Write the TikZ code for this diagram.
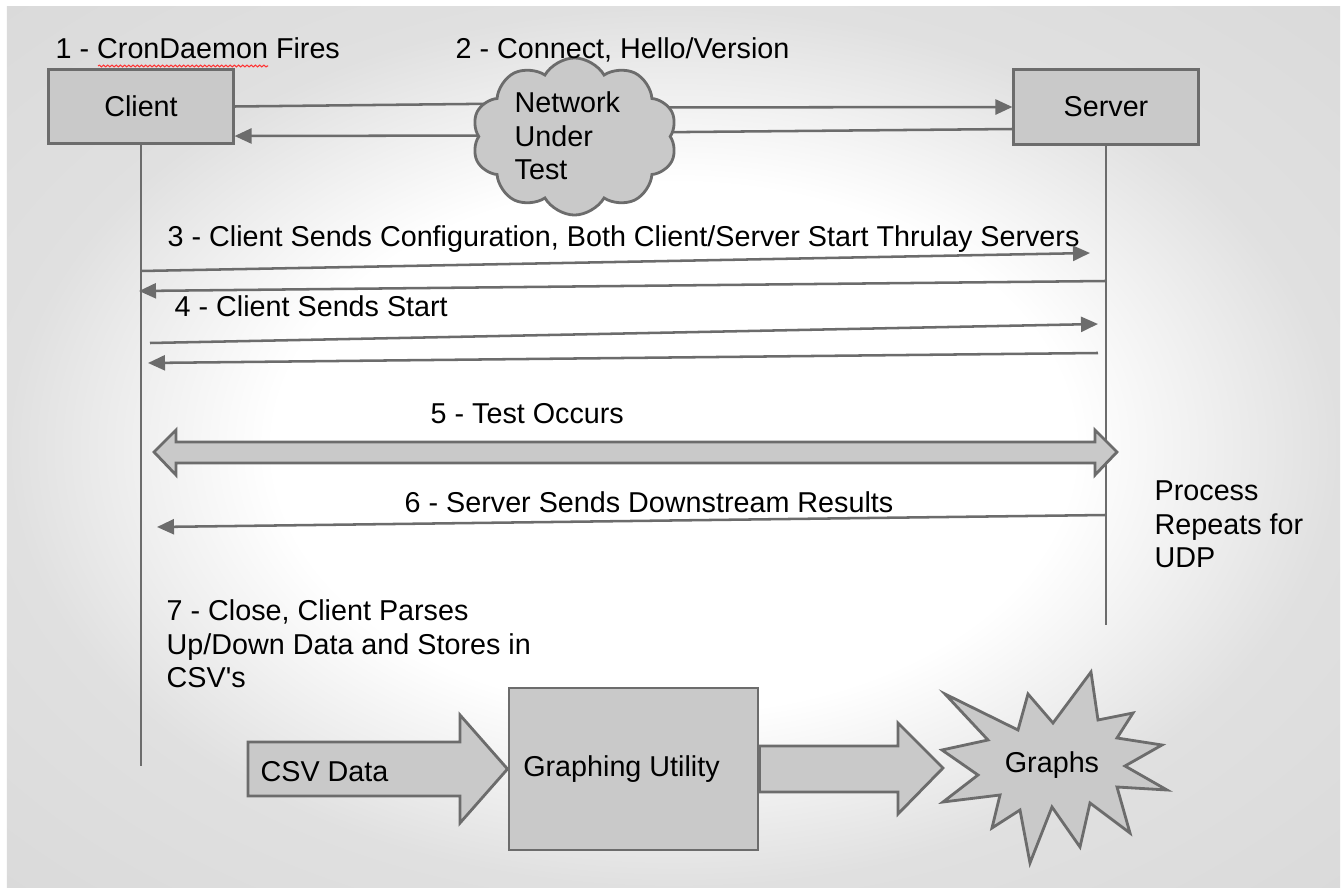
\documentclass[tikz,border=0pt]{standalone}
\usepackage{fontspec}
\setmainfont{Liberation Sans}
\usetikzlibrary{positioning, calc, shapes.symbols, arrows.meta, decorations.pathmorphing}
\definecolor{boxFill}{RGB}{201,201,201}
\definecolor{lineColor}{RGB}{108,108,108}
\definecolor{slideEdge}{RGB}{224,224,224}
\definecolor{slideCorner}{RGB}{210,210,210}
\pgfdeclareradialshading{slideGlow}{\pgfpoint{0bp}{0bp}}{color(0bp)=(white); color(15bp)=(white); color(25bp)=(slideEdge); color(50bp)=(slideCorner)}
\tikzstyle{slide} = [x = 0.01cm, y = -0.01cm, font=\fontsize{8.17}{9.6}\selectfont]
\tikzstyle{hostBox} = [draw=lineColor, fill=boxFill, line width=0.85pt, minimum width=1.84cm, minimum height=0.74cm, inner sep=0]
\tikzstyle{lifeLine} = [draw=lineColor, line width=0.6pt]
\tikzstyle{plainLine} = [draw=lineColor, line width=0.72pt]
\tikzstyle{msgLine} = [plainLine, -{Triangle[length=0.17cm, width=0.15cm]}]
\tikzstyle{blockShape} = [draw=lineColor, fill=boxFill, line width=0.8pt, line join=miter]
\tikzstyle{stepText} = [anchor=base west, inner sep=0, align=left]
\tikzstyle{cloudShape} = [cloud, cloud puffs=10, cloud puff arc=120, cloud ignores aspect, draw=lineColor, fill=boxFill, line width=0.8pt, minimum width=2.05cm, minimum height=1.57cm, inner sep=0]
% multi-line labels sit on the baseline of their last line
\newcommand{\stepLabel}[3]{\node [stepText] (#1) at (#2) {#3};}

\begin{document}
\begin{tikzpicture}[slide]
  \useasboundingbox (0,0) rectangle (1344,888);
  \fill [white] (0,0) rectangle (1344,888);
  \shade [shading=slideGlow] (7,7) rectangle (1340,888);

  % hosts and lifelines
  \node [hostBox] (client) at (141,106.5) {Client};
  \node [hostBox] (server) at (1106,107) {Server};
  \draw [lifeLine] (client.south) -- ++(0,621);
  \draw [lifeLine] (server.south) -- ++(0,479);

  % connect through the network
  \coordinate (netc) at (574.5,136.5);
  \draw [plainLine] (client.east) -- ($(netc) + (-60,-33)$);
  \draw [msgLine] ($(netc) + (-60,-1)$) -- ([yshift=-0.295cm]client.east);
  \draw [msgLine] ($(netc) + (60,-29)$) -- (server.west);
  \draw [plainLine] ([yshift=-0.22cm]server.west) -- ($(netc) + (60,-4)$);
  \node [cloudShape] (net) at (netc) {};
  \stepLabel{netText}{514,180}{Network\\Under\\Test}

  \stepLabel{cron}{55,59}{1 - CronDaemon Fires}
  \draw [red!80!white, line width=0.3pt, decorate, decoration={snake, amplitude=0.25pt, segment length=1.2pt}] (98,66) -- (268,66);
  \stepLabel{hello}{455,59}{2 - Connect, Hello/Version}

  % configuration and start
  \stepLabel{config}{167,247}{3 - Client Sends Configuration, Both Client/Server Start Thrulay Servers}
  \draw [msgLine] (client.south |- 0,271) -- ($(server.south |- 0,253) + (-16,0)$);
  \draw [msgLine] (server.south |- 0,281) -- ($(client.south |- 0,291) + (-2,0)$);
  \stepLabel{start}{174,317}{4 - Client Sends Start}
  \draw [msgLine] ($(client.south |- 0,343) + (9,0)$) -- ($(server.south |- 0,324) + (-8,0)$);
  \draw [msgLine] ($(server.south |- 0,353) + (-8,0)$) -- ($(client.south |- 0,363) + (7,0)$);

  % test
  \stepLabel{test}{430,424}{5 - Test Occurs}
  \filldraw [blockShape] (154,452) -- (176,430) -- (176,442) -- (1095,442) -- (1095,430) -- (1117,452)
    -- (1095,475) -- (1095,463) -- (176,463) -- (176,475) -- cycle;

  \stepLabel{results}{404,513}{6 - Server Sends Downstream Results}
  \draw [msgLine] (server.south |- 0,515) -- ($(client.south |- 0,527) + (16,0)$);
  \stepLabel{repeat}{1154,568}{Process\\Repeats for\\UDP}
  \stepLabel{close}{166,688}{7 - Close, Client Parses\\Up/Down Data and Stores in\\CSV\textquotesingle s}

  % graphing
  \node [blockShape, minimum width=2.49cm, minimum height=1.62cm] (util) at (633.5,769) {Graphing Utility\rule{0.24cm}{0pt}};
  \filldraw [blockShape] (248,742) -- (460,742) -- (460,715) -- (util.west) -- (460,823) -- (460,796) -- (248,796) -- cycle;
  \node [anchor=base west, inner sep=0] (csv) at (260,782) {CSV Data};
  \filldraw [blockShape] ([yshift=0.23cm]util.east) -- (898,746) -- (898,723) -- (943,768) -- (898,814) -- (898,792)
    -- ([yshift=-0.23cm]util.east) -- cycle;
  \filldraw [blockShape] (945,694) -- (1018,730) -- (1028,694) -- (1053,723) -- (1091,672) -- (1098,720) -- (1133,713)
    -- (1117,738) -- (1162,745) -- (1125,766) -- (1167,790) -- (1117,787) -- (1130,833) -- (1090,803) -- (1080,847)
    -- (1052,807) -- (1030,863) -- (1020,810) -- (992,828) -- (1000,795) -- (943,802) -- (978,775) -- (942,750)
    -- (988,740) -- cycle;
  \node [anchor=base, inner sep=0] (graphs) at (1052,773) {Graphs};
\end{tikzpicture}
\end{document}
